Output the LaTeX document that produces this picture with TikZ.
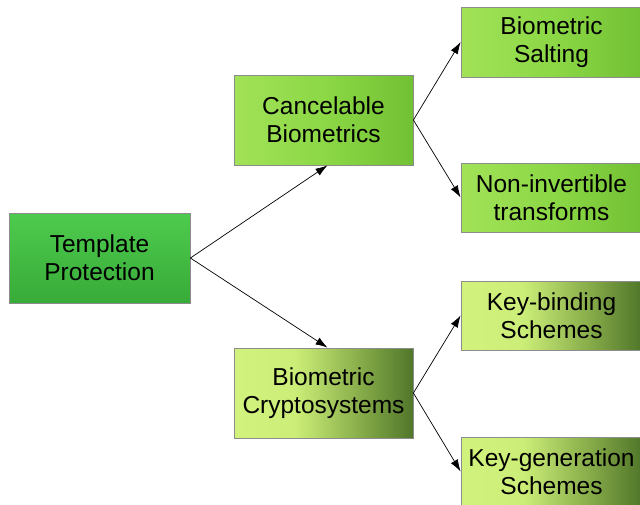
\documentclass[tikz,border=0pt]{standalone}
\usepackage{fontspec}
\setmainfont{Liberation Sans}
\usetikzlibrary{arrows.meta}
\definecolor{tpTop}{HTML}{4ECB4E}
\definecolor{tpBot}{HTML}{38AB38}
\definecolor{cbA}{HTML}{A2E258}
\definecolor{cbB}{HTML}{8CD846}
\definecolor{cbC}{HTML}{72C034}
\definecolor{crA}{HTML}{D2F27E}
\definecolor{crB}{HTML}{CCEE78}
\definecolor{crC}{HTML}{88AD4A}
\definecolor{crD}{HTML}{50762A}
\definecolor{edge}{HTML}{8C8C8C}
\pgfdeclarehorizontalshading{greenshade}{100bp}{color(0bp)=(cbA); color(25bp)=(cbA); color(50bp)=(cbB); color(75bp)=(cbC); color(100bp)=(cbC)}
\pgfdeclarehorizontalshading{oliveshade}{100bp}{color(0bp)=(crA); color(25bp)=(crA); color(42bp)=(crB); color(60bp)=(crC); color(75bp)=(crD); color(100bp)=(crD)}
\tikzset{
  x=1pt, y=1pt,
  box/.style={draw=edge, line width=0.8pt, align=center, inner sep=0pt,
    font=\fontsize{24.5}{28}\selectfont},
  rootbox/.style={box, top color=tpTop, bottom color=tpBot, minimum width=181pt, minimum height=90pt},
  midgreen/.style={box, shading=greenshade},
  midolive/.style={box, shading=oliveshade},
  bigbox/.style={minimum width=179pt, minimum height=90pt},
  leafbox/.style={minimum width=181pt, minimum height=69pt},
  conn/.style={draw=black, line width=0.7pt, -{Latex[length=12pt,width=8pt]}}
}
\begin{document}
\begin{tikzpicture}
\useasboundingbox (0,0) rectangle (640,-504);
\node[rootbox] (tp) at (99.5,-258) {Template\\Protection};
\node[midgreen, bigbox] (cb) at (323.5,-120) {Cancelable\\Biometrics};
\node[midolive, bigbox] (bc) at (323.5,-393) {Biometric\\Cryptosystems};
\node[midgreen, leafbox, minimum height=70pt] (bs) at (551.5,-42) {Biometric\\Salting};
\node[midgreen, leafbox] (ni) at (551.5,-197.5) {Non-invertible\\transforms};
\node[midolive, leafbox] (kb) at (551.5,-315.5) {Key-binding\\Schemes};
\node[midolive, leafbox] (kg) at (551.5,-471.5) {Key-generation\\Schemes};
\draw[conn] (tp.east) -- ([xshift=4pt]cb.south);
\draw[conn] (tp.east) -- ([xshift=4pt]bc.north);
\draw[conn] (cb.east) -- (bs.west);
\draw[conn] (cb.east) -- (ni.west);
\draw[conn] (bc.east) -- (kb.west);
\draw[conn] (bc.east) -- (kg.west);
\end{tikzpicture}
\end{document}
